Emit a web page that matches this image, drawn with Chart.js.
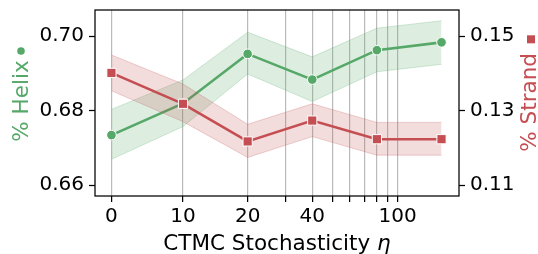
<!DOCTYPE html>
<html>
<head>
<meta charset="utf-8">
<script src="https://cdn.jsdelivr.net/npm/chart.js@4.4.1/dist/chart.umd.min.js"></script>
<style>
  html, body { margin: 0; padding: 0; background: #fff; }
  canvas { display: block; }
</style>
</head>
<body>
<canvas id="chart" width="538" height="254"></canvas>
<script>
const etaValues   = [0, 10, 20, 40, 80, 160];
const helixMean   = [0.6734, 0.6819, 0.6952, 0.6883, 0.6962, 0.6983];
const helixLow    = [0.6669, 0.6757, 0.6898, 0.6824, 0.6904, 0.6924];
const helixHigh   = [0.6803, 0.6882, 0.7010, 0.6944, 0.7021, 0.7041];
const strandMean  = [0.1401, 0.1318, 0.1217, 0.1273, 0.1223, 0.1223];
const strandLow   = [0.1353, 0.1270, 0.1174, 0.1230, 0.1180, 0.1180];
const strandHigh  = [0.1449, 0.1371, 0.1263, 0.1318, 0.1268, 0.1268];
const xTickValues = [0, 10, 20, 30, 40, 50, 60, 70, 80, 90, 100];
const xTickLabels = ['0', '10', '20', '', '40', '', '', '', '', '', '100'];
const helixTicks  = [0.66, 0.68, 0.70];
const strandTicks = [0.11, 0.13, 0.15];

const GREEN = '#55a868', RED = '#c44e52';
const FONT = "'DejaVu Sans', sans-serif";

// symlog, linthresh 10, linear part = 1/3 decade
const tf = v => Math.abs(v) <= 10 ? v / 30 : Math.sign(v) * (1/3 + Math.log10(Math.abs(v) / 10));
const tfInv = t => Math.abs(t) <= 1/3 ? t * 30 : Math.sign(t) * 10 * Math.pow(10, Math.abs(t) - 1/3);

class SymlogScale extends Chart.LinearScale {
    determineDataLimits(){ this.min = tf(this.options.min); this.max = tf(this.options.max); }
    buildTicks(){ return xTickValues.map(v => ({value: v})); }
    getPixelForValue(v){ return this.getPixelForDecimal((tf(v) - this._startValue) / this._valueRange); }
    getValueForPixel(p){ return tfInv(this._startValue + this.getDecimalForPixel(p) * this._valueRange); }
}
SymlogScale.id = 'symlog';
SymlogScale.defaults = {};
Chart.register(SymlogScale);

const pts = (ys) => etaValues.map((x, i) => ({x: x, y: ys[i]}));

const frameAndTitles = {
    id: 'frameAndTitles',
    afterDraw(chart){
        const {ctx, chartArea: a} = chart;
        ctx.save();
        ctx.strokeStyle = '#000';
        ctx.lineWidth = 1.25;
        ctx.strokeRect(a.left, a.top, a.right - a.left, a.bottom - a.top);

        // x title
        ctx.fillStyle = '#000';
        ctx.textBaseline = 'alphabetic';
        ctx.textAlign = 'left';
        const main = 'CTMC Stochasticity ';
        ctx.font = '21.5px ' + FONT;
        const w1 = ctx.measureText(main).width;
        ctx.font = 'italic 21.5px ' + FONT;
        const w2 = ctx.measureText('η').width;
        let x0 = (a.left + a.right) / 2 - (w1 + w2) / 2;
        ctx.font = '21.5px ' + FONT;
        ctx.fillText(main, x0, 250);
        ctx.font = 'italic 21.5px ' + FONT;
        ctx.fillText('η', x0 + w1, 250);

        // left title
        ctx.font = '21.5px ' + FONT;
        ctx.save();
        ctx.translate(28.3, 141.7);
        ctx.rotate(-Math.PI / 2);
        ctx.fillStyle = GREEN;
        ctx.fillText('% Helix', 0, 0);
        ctx.restore();
        ctx.fillStyle = GREEN;
        ctx.beginPath();
        ctx.arc(21, 51, 3.8, 0, Math.PI * 2);
        ctx.fill();

        // right title
        ctx.save();
        ctx.translate(535.5, 151.7);
        ctx.rotate(-Math.PI / 2);
        ctx.fillStyle = RED;
        ctx.fillText('% Strand', 0, 0);
        ctx.restore();
        ctx.fillStyle = RED;
        ctx.fillRect(527, 35.3, 8, 8);
        ctx.restore();
    }
};

const yCommon = {
    grid: { drawOnChartArea: false, tickLength: 6, tickColor: '#000', tickWidth: 1.25 },
    border: { display: false },
    ticks: { color: '#000', font: { family: FONT, size: 20 }, padding: 5, callback: v => v.toFixed(2) }
};

new Chart(document.getElementById('chart'), {
    type: 'line',
    data: {
        datasets: [
            { data: pts(strandMean), yAxisID: 'y2', borderColor: RED, borderWidth: 2.6,
              pointStyle: 'rect', pointRadius: 6.5, pointBackgroundColor: RED,
              pointBorderColor: '#fff', pointBorderWidth: 1, tension: 0, fill: false },
            { data: pts(strandHigh), yAxisID: 'y2', borderColor: 'rgba(196,78,82,0.25)', borderWidth: 1,
              pointRadius: 0, fill: false },
            { data: pts(strandLow), yAxisID: 'y2', borderColor: 'rgba(196,78,82,0.25)', borderWidth: 1,
              pointRadius: 0, fill: 1, backgroundColor: 'rgba(196,78,82,0.2)' },
            { data: pts(helixMean), yAxisID: 'y', borderColor: GREEN, borderWidth: 2.6,
              pointStyle: 'circle', pointRadius: 4.8, pointBackgroundColor: GREEN,
              pointBorderColor: '#fff', pointBorderWidth: 1, tension: 0, fill: false },
            { data: pts(helixHigh), yAxisID: 'y', borderColor: 'rgba(85,168,104,0.25)', borderWidth: 1,
              pointRadius: 0, fill: false },
            { data: pts(helixLow), yAxisID: 'y', borderColor: 'rgba(85,168,104,0.25)', borderWidth: 1,
              pointRadius: 0, fill: 4, backgroundColor: 'rgba(85,168,104,0.2)' }
        ]
    },
    options: {
        responsive: false,
        animation: false,
        layout: { padding: { top: 10, left: 0, right: 0, bottom: 0 } },
        plugins: { legend: { display: false }, tooltip: { enabled: false } },
        scales: {
            x: {
                type: 'symlog', position: 'bottom', min: -2.3, max: 193,
                grid: { color: '#bababa', lineWidth: 1.2, tickLength: 6, tickColor: '#000', tickWidth: 1.25 },
                border: { display: false },
                ticks: { color: '#000', font: { family: FONT, size: 20 }, padding: 3,
                         autoSkip: false, maxRotation: 0, callback: (v, i) => xTickLabels[i] },
                afterFit: s => { s.height = 58; s.paddingLeft = 0; s.paddingRight = 0; }
            },
            y: Object.assign({}, yCommon, {
                position: 'left', min: 0.65705, max: 0.70698,
                afterBuildTicks: s => { s.ticks = helixTicks.map(v => ({value: v})); },
                afterFit: s => { s.width = 95; s.paddingTop = 0; s.paddingBottom = 0; }
            }),
            y2: Object.assign({}, yCommon, {
                position: 'right', min: 0.10705, max: 0.15698,
                afterBuildTicks: s => { s.ticks = strandTicks.map(v => ({value: v})); },
                afterFit: s => { s.width = 79; s.paddingTop = 0; s.paddingBottom = 0; }
            })
        }
    },
    plugins: [frameAndTitles]
});
</script>
</body>
</html>
